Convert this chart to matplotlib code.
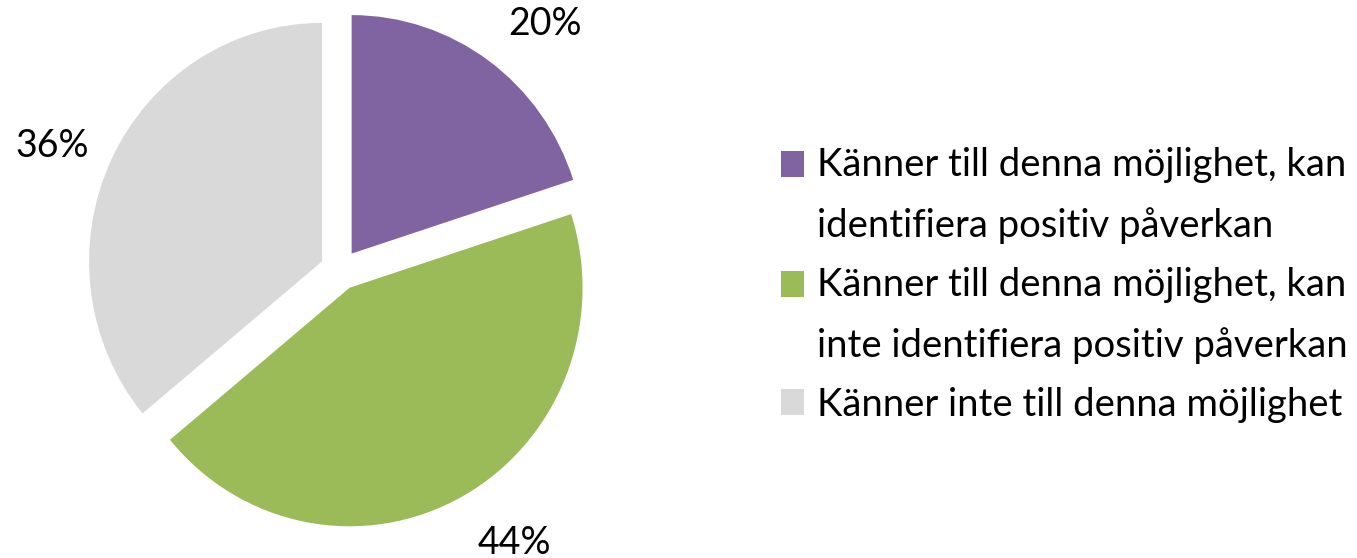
import matplotlib.pyplot as plt
from matplotlib.patches import Rectangle
from matplotlib.legend_handler import HandlerPatch

# survey answers (share of respondents)
categories = [
    "Känner till denna möjlighet, kan\nidentifiera positiv påverkan",
    "Känner till denna möjlighet, kan\ninte identifiera positiv påverkan",
    "Känner inte till denna möjlighet",
]
shares = [20, 44, 36]
pct_labels = ["20%", "44%", "36%"]
colors = ["#8064A2", "#9BBB59", "#D9D9D9"]

plt.rcParams["font.family"] = ["Lato", "DejaVu Sans"]

W, H = 1357, 558
fig = plt.figure(figsize=(W / 100, H / 100), dpi=100)

# pie centre ~ (340, 270) px; the original is slightly taller than wide
rx_px, ry_px = 233, 238.5
lim = 1.2
w_px, h_px = 2 * lim * rx_px, 2 * lim * ry_px
cx, cy = 340, H - 270
ax = fig.add_axes([(cx - w_px / 2) / W, (cy - h_px / 2) / H, w_px / W, h_px / H])

wedges, texts = ax.pie(
    shares,
    labels=pct_labels,
    colors=colors,
    startangle=90,
    counterclock=False,
    explode=[0.085] * 3,
    labeldistance=1.14,
    textprops={"fontsize": 27, "color": "black"},
)
# Excel put the labels a little off the radial line
x, y = texts[0].get_position()
texts[0].set_position((x, y + 0.04))
x, y = texts[1].get_position()
texts[1].set_position((x, y - 0.07))
x, y = texts[2].get_position()
texts[2].set_position((x + 0.03, y))

ax.set_aspect("auto")
ax.set_xlim(-lim, lim)
ax.set_ylim(-lim, lim)
ax.axis("off")


def square(shift):
    # put the marker on the first text line instead of the middle
    def make(legend, orig_handle, xdescent, ydescent, width, height, fontsize):
        return Rectangle((-xdescent, -ydescent + shift), width, height)
    return make


n_lines = [c.count("\n") + 1 for c in categories]
fs = 27.5
line_gap = 1.8
handler_map = {
    w: HandlerPatch(patch_func=square((n - 1) * (0.5 * 0.87 * line_gap * fs + 2)))
    for w, n in zip(wedges, n_lines)
}

leg = fig.legend(
    wedges,
    categories,
    loc="center left",
    bbox_to_anchor=(781 / W, 1 - 285 / H),
    frameon=False,
    fontsize=fs,
    borderpad=0,
    borderaxespad=0,
    handlelength=0.6,
    handleheight=0.655,
    handletextpad=0.34,
    labelspacing=0.6,
    handler_map=handler_map,
)
for t in leg.get_texts():
    t.set_linespacing(line_gap)

fig.savefig("out.png", dpi=100)
